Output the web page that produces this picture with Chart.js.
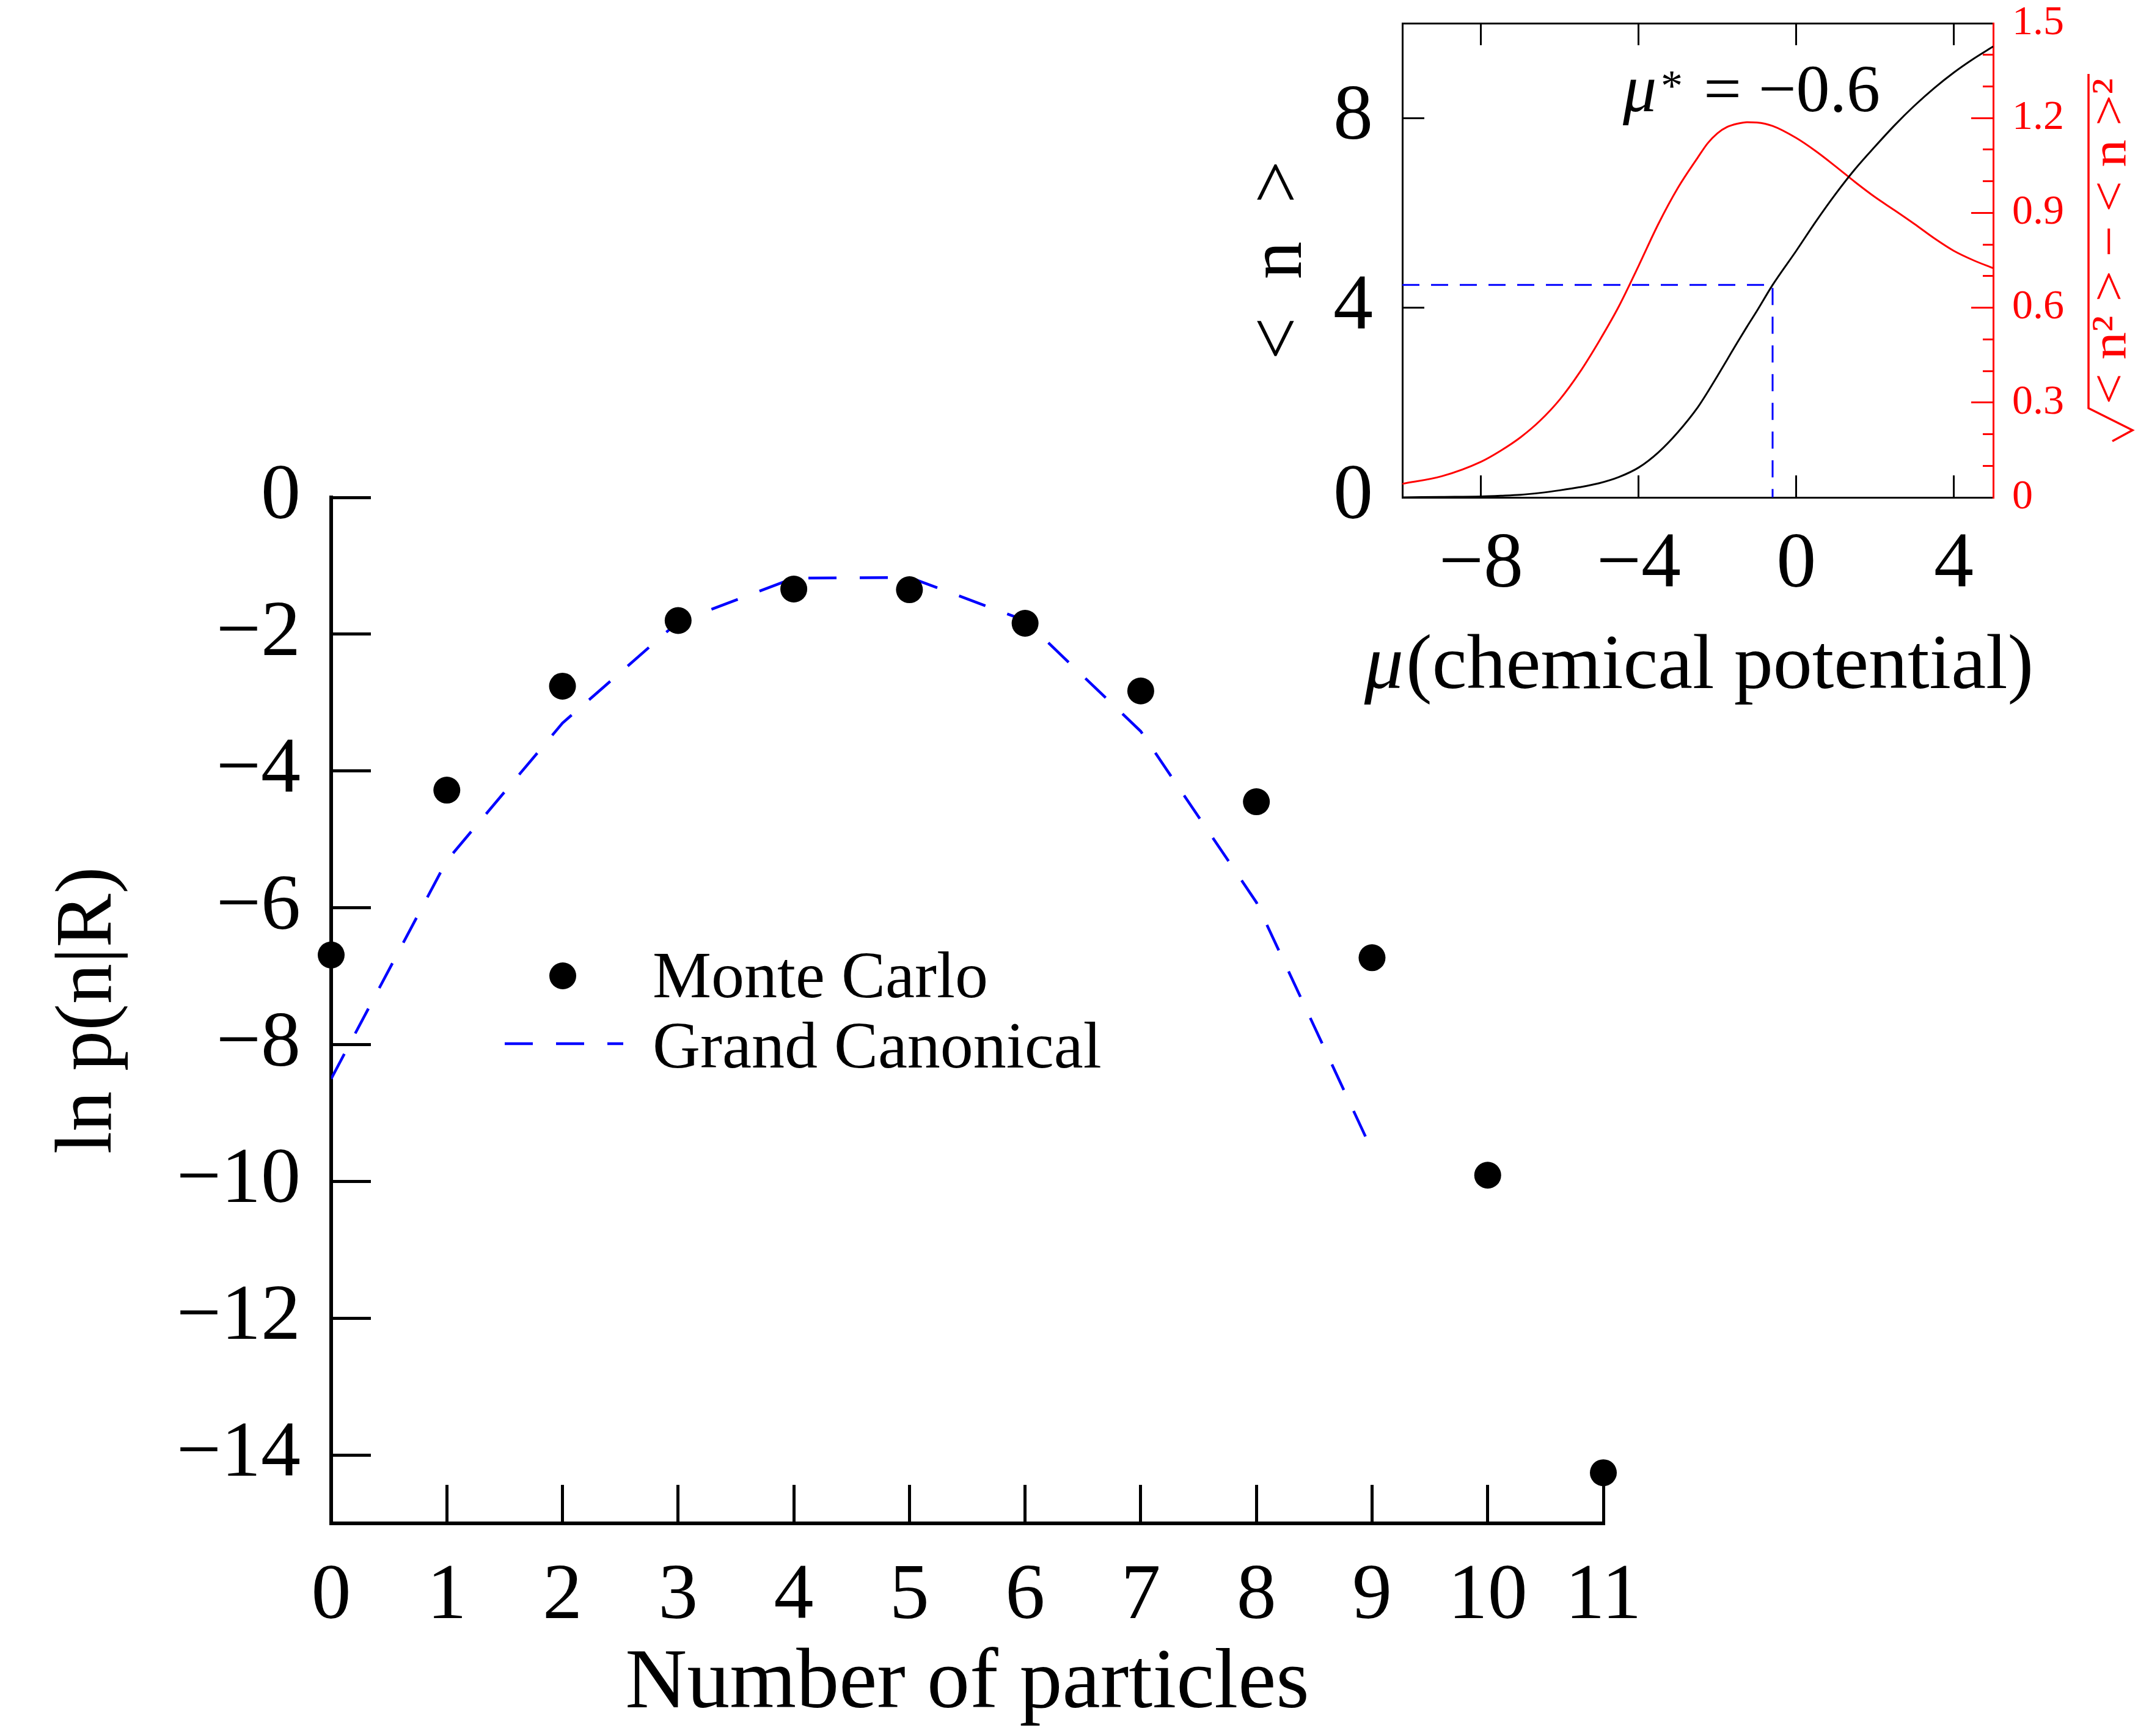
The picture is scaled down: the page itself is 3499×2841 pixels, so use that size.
<!DOCTYPE html>
<html>
<head>
<meta charset="utf-8">
<title>ln p(n|R)</title>
<script src="https://cdn.jsdelivr.net/npm/chart.js@4.4.1/dist/chart.umd.min.js"></script>
<style>
  html, body { margin: 0; padding: 0; background: #ffffff; }
  #wrap { position: relative; width: 3499px; height: 2841px; }
  #wrap canvas { position: absolute; left: 0; top: 0; }
</style>
</head>
<body>
<div id="wrap">
  <canvas id="mainChart" width="3499" height="2841"></canvas>
  <canvas id="insetChart" width="3499" height="2841"></canvas>
</div>
<script>
// main panel: distribution of the particle number
const particles = [0, 1, 2, 3, 4, 5, 6, 7, 8, 9, 10, 11];
const monteCarlo = [-6.69, -4.28, -2.76, -1.80, -1.34, -1.35, -1.84, -2.83, -4.45, -6.73, -9.91, -14.26];
const grandCanonical = [-8.5, -5.31, -3.3, -1.82, -1.18, -1.17, -1.8, -3.42, -5.92, -9.55];
const mainXTicks = [0, 1, 2, 3, 4, 5, 6, 7, 8, 9, 10, 11];
const mainYTicks = [-14, -12, -10, -8, -6, -4, -2, 0];

// inset: <n> and its fluctuation against the chemical potential
const mu = [-10, -9, -8, -7.5, -7, -6.5, -6, -5.5, -5, -4.5, -4, -3.5, -3, -2.5, -2.25, -2, -1.75, -1.5, -1.25, -1, -0.6, 0, 0.5, 1, 1.5, 2, 2.5, 3, 3.5, 4, 4.5, 5];
const meanN = [0, 0.01, 0.02, 0.035, 0.055, 0.095, 0.15, 0.215, 0.3, 0.43, 0.63, 0.95, 1.38, 1.9, 2.22, 2.56, 2.91, 3.26, 3.6, 3.93, 4.48, 5.2, 5.82, 6.4, 6.93, 7.4, 7.85, 8.26, 8.63, 8.96, 9.25, 9.51];
const fluctN = [0.043, 0.067, 0.113, 0.148, 0.19, 0.243, 0.31, 0.395, 0.495, 0.605, 0.733, 0.865, 0.98, 1.075, 1.12, 1.152, 1.172, 1.182, 1.187, 1.186, 1.175, 1.137, 1.095, 1.047, 0.997, 0.95, 0.908, 0.865, 0.82, 0.78, 0.75, 0.725];
const muStar = -0.6;
const nStar = 4.48;
const insetXTicks = [-8, -4, 0, 4];
const insetYTicks = [0, 4, 8];
const insetY2Ticks = [0, 0.3, 0.6, 0.9, 1.2, 1.5];
const insetY2Minor = [0, 0.1, 0.2, 0.3, 0.4, 0.5, 0.6, 0.7, 0.8, 0.9, 1.0, 1.1, 1.2, 1.3, 1.4, 1.5];

const SERIF = '"Liberation Serif", "DejaVu Serif", serif';
Chart.defaults.font.family = SERIF;
Chart.defaults.color = '#000000';

const minus = v => (v < 0 ? '\u2212' + Math.abs(v) : String(v));
const fixTicks = arr => scale => { scale.ticks = arr.map(v => ({ value: v })); };
// fixed axis size, and no extra room asked for the end labels
const fixSize = (w, h) => s => {
  if (w !== null) s.width = w;
  if (h !== null) s.height = h;
  s.paddingTop = 0; s.paddingBottom = 0; s.paddingLeft = 0; s.paddingRight = 0;
};

// legend drawn by hand, inside the plot
const mainLegend = {
  id: 'mainLegend',
  afterDatasetsDraw(chart) {
    const ctx = chart.ctx;
    const [mc, gc] = chart.data.datasets;
    ctx.save();
    ctx.fillStyle = mc.backgroundColor;
    ctx.beginPath();
    ctx.arc(921, 1597, mc.pointRadius, 0, 2 * Math.PI);
    ctx.fill();
    ctx.strokeStyle = gc.borderColor;
    ctx.lineWidth = gc.borderWidth;
    ctx.setLineDash(gc.borderDash);
    ctx.beginPath();
    ctx.moveTo(826, 1708);
    ctx.lineTo(1020, 1708);
    ctx.stroke();
    ctx.setLineDash([]);
    ctx.fillStyle = '#000000';
    ctx.font = '108px ' + SERIF;
    ctx.textBaseline = 'alphabetic';
    ctx.textAlign = 'left';
    ctx.fillText(mc.label, 1068, 1632);
    ctx.fillText(gc.label, 1068, 1747);
    ctx.restore();
  }
};

new Chart(document.getElementById('mainChart'), {
  type: 'scatter',
  data: {
    datasets: [
      {
        label: 'Monte Carlo',
        data: particles.map((n, i) => ({ x: n, y: monteCarlo[i] })),
        backgroundColor: '#000000',
        borderWidth: 0,
        pointRadius: 22,
        showLine: false,
        clip: false
      },
      {
        label: 'Grand Canonical',
        data: grandCanonical.map((v, i) => ({ x: particles[i], y: v })),
        showLine: true,
        borderColor: '#0000ff',
        borderWidth: 4.5,
        borderDash: [46, 38],
        pointRadius: 0,
        fill: false
      }
    ]
  },
  options: {
    responsive: false,
    animation: false,
    devicePixelRatio: 1,
    events: [],
    layout: { padding: { left: 0, top: 814, right: 875, bottom: 0 } },
    plugins: { legend: { display: false }, tooltip: { enabled: false } },
    scales: {
      x: {
        type: 'linear',
        position: 'bottom',
        min: 0,
        max: 11,
        afterBuildTicks: fixTicks(mainXTicks),
        afterFit: fixSize(null, 348),
        grid: { drawOnChartArea: false, tickLength: -63, lineWidth: 5, color: '#000000' },
        border: { color: '#000000', width: 6 },
        ticks: { font: { size: 130 }, padding: 106, maxRotation: 0, autoSkip: false, callback: minus },
        title: { display: true, text: 'Number of particles', font: { size: 140 }, padding: { top: 0, bottom: 0 } }
      },
      y: {
        type: 'linear',
        position: 'left',
        min: -15,
        max: 0,
        afterBuildTicks: fixTicks(mainYTicks),
        afterFit: fixSize(542, null),
        grid: { drawOnChartArea: false, tickLength: -65, lineWidth: 5, color: '#000000' },
        border: { color: '#000000', width: 6 },
        ticks: { font: { size: 130 }, padding: 115, autoSkip: false, callback: minus },
        title: { display: true, text: 'ln p(n|R)', font: { size: 132 }, padding: { top: 67, bottom: 0 } }
      }
    }
  },
  plugins: [mainLegend]
});

// mu* label, the inset x title (wider than its axis) and the red right-hand title
const insetText = {
  id: 'insetText',
  afterDraw(chart) {
    const { ctx, scales, chartArea } = chart;
    ctx.save();
    const lx = scales.x.getPixelForValue(-4.4);
    const ly = scales.y.getPixelForValue(8.15);
    ctx.fillStyle = '#000000';
    ctx.textBaseline = 'alphabetic';
    ctx.textAlign = 'left';
    ctx.font = 'italic 110px ' + SERIF;
    ctx.fillText('\u03bc', lx, ly);
    ctx.font = '72px ' + SERIF;
    ctx.fillText('*', lx + 62, ly - 18);
    ctx.font = '110px ' + SERIF;
    ctx.fillText('= \u2212' + Math.abs(muStar), lx + 132, ly);

    // x title: italic mu + "(chemical potential)"
    const head = '\u03bc';
    const tail = '(chemical potential)';
    ctx.font = 'italic 128px ' + SERIF;
    const wHead = ctx.measureText(head).width;
    ctx.font = '128px ' + SERIF;
    const wTail = ctx.measureText(tail).width;
    const tx = (chartArea.left + chartArea.right) / 2 - (wHead + wTail) / 2;
    const ty = chartArea.bottom + 312;
    ctx.font = 'italic 128px ' + SERIF;
    ctx.fillText(head, tx, ty);
    ctx.font = '128px ' + SERIF;
    ctx.fillText(tail, tx + wHead + 4, ty);

    const cx = scales.y2.right - 47;
    const cy = (chartArea.top + chartArea.bottom) / 2 - 6;
    ctx.translate(cx, cy);
    ctx.rotate(-Math.PI / 2);
    ctx.strokeStyle = '#ff0000';
    ctx.fillStyle = '#ff0000';
    ctx.lineWidth = 3.5;
    ctx.beginPath();
    ctx.moveTo(-302, 5);
    ctx.lineTo(-284, 38);
    ctx.lineTo(-248, -34);
    ctx.lineTo(299, -34);
    ctx.stroke();
    const txt = '< n\u00b2 > \u2212 < n >\u00b2';
    ctx.font = '80px ' + SERIF;
    const w = ctx.measureText(txt).width;
    ctx.translate(-242, 26);
    ctx.scale(534 / w, 1);
    ctx.fillText(txt, 0, 0);
    ctx.restore();
  }
};

new Chart(document.getElementById('insetChart'), {
  type: 'scatter',
  data: {
    datasets: [
      {
        label: '<n>',
        data: mu.map((m, i) => ({ x: m, y: meanN[i] })),
        xAxisID: 'x',
        yAxisID: 'y',
        showLine: true,
        borderColor: '#000000',
        borderWidth: 3,
        pointRadius: 0,
        cubicInterpolationMode: 'monotone'
      },
      {
        label: 'fluctuation',
        data: mu.map((m, i) => ({ x: m, y: fluctN[i] })),
        xAxisID: 'x',
        yAxisID: 'y2',
        showLine: true,
        borderColor: '#ff0000',
        borderWidth: 3,
        pointRadius: 0,
        cubicInterpolationMode: 'monotone'
      },
      {
        label: 'mu*',
        data: [{ x: mu[0], y: nStar }, { x: muStar, y: nStar }, { x: muStar, y: 0 }],
        xAxisID: 'x',
        yAxisID: 'y',
        showLine: true,
        borderColor: '#0000ff',
        borderWidth: 3,
        borderDash: [28, 19],
        pointRadius: 0
      }
    ]
  },
  options: {
    responsive: false,
    animation: false,
    devicePixelRatio: 1,
    events: [],
    layout: { padding: { left: 1995, top: 38, right: 0, bottom: 1667 } },
    plugins: { legend: { display: false }, tooltip: { enabled: false } },
    scales: {
      x: {
        type: 'linear',
        position: 'bottom',
        min: -10,
        max: 5,
        afterBuildTicks: fixTicks(insetXTicks),
        afterFit: fixSize(null, 360),
        grid: { drawOnChartArea: false, tickLength: -36, lineWidth: 3, color: '#000000' },
        border: { color: '#000000', width: 3 },
        ticks: { font: { size: 130 }, padding: 70, maxRotation: 0, autoSkip: false, callback: minus }
      },
      x2: {
        type: 'linear',
        position: 'top',
        min: -10,
        max: 5,
        afterBuildTicks: fixTicks(insetXTicks),
        afterFit: fixSize(null, 0),
        grid: { drawOnChartArea: false, tickLength: -36, lineWidth: 3, color: '#000000' },
        border: { color: '#000000', width: 3 },
        ticks: { display: false }
      },
      y: {
        type: 'linear',
        position: 'left',
        min: 0,
        max: 10,
        afterBuildTicks: fixTicks(insetYTicks),
        afterFit: fixSize(300, null),
        grid: { drawOnChartArea: false, tickLength: -36, lineWidth: 3, color: '#000000' },
        border: { color: '#000000', width: 3 },
        ticks: { font: { size: 130 }, padding: 84, autoSkip: false, callback: minus },
        title: { display: true, text: '<  n  >', font: { size: 124 }, padding: { top: 27, bottom: 0 } }
      },
      y2: {
        type: 'linear',
        position: 'right',
        weight: 1,
        min: 0,
        max: 1.5,
        afterBuildTicks: fixTicks(insetY2Ticks),
        afterFit: fixSize(237, null),
        grid: { drawOnChartArea: false, tickLength: -36, lineWidth: 3, color: '#ff0000' },
        border: { color: '#ff0000', width: 3 },
        ticks: { color: '#ff0000', font: { size: 68 }, padding: 67, autoSkip: false }
      },
      y3: {
        type: 'linear',
        position: 'right',
        weight: 0,
        min: 0,
        max: 1.5,
        afterBuildTicks: fixTicks(insetY2Minor),
        afterFit: fixSize(0, null),
        grid: { drawOnChartArea: false, tickLength: -17, lineWidth: 3, color: '#ff0000' },
        border: { display: false },
        ticks: { display: false }
      }
    }
  },
  plugins: [insetText]
});
</script>
</body>
</html>
